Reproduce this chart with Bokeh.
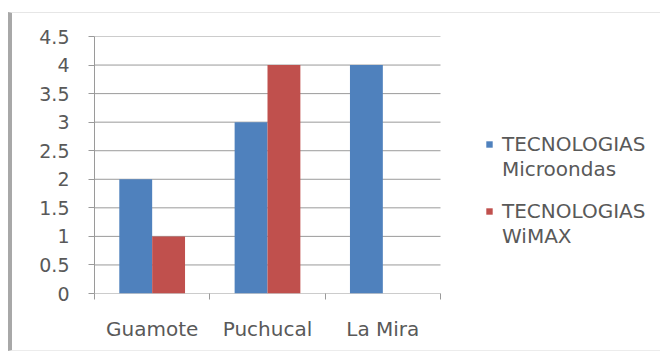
from bokeh.plotting import figure
from bokeh.models import (ColumnDataSource, FixedTicker, Legend, LegendItem,
                          Range1d)
from bokeh.embed import file_html
from bokeh.resources import INLINE

# Data
ciudades = ["Guamote", "Puchucal", "La Mira"]
microondas = [2, 3, 4]
wimax = [1, 4, 0]
y_ticks = [0, 0.5, 1, 1.5, 2, 2.5, 3, 3.5, 4, 4.5]
y_labels = ["0", "0.5", "1", "1.5", "2", "2.5", "3", "3.5", "4", "4.5"]
serie_a = ["TECNOLOGIAS", "Microondas"]
serie_b = ["TECNOLOGIAS", "WiMAX"]

AZUL = "#4F81BD"
ROJO = "#C0504D"
GRIS_TEXTO = "#595959"
GRIS_LINEA = "#9a9a9a"
FUENTE = "DejaVu Sans"

n = len(ciudades)
centros = [i + 0.5 for i in range(n)]
ancho = 0.285

# the plotting area also holds the legend on its right side:
# the categories take 346 of the frame's 570 pixels
FRAME_W = 570
CAT_W = 346
x_fin = n * FRAME_W / CAT_W

src_a = ColumnDataSource(dict(x=[c - ancho / 2 for c in centros], top=microondas))
src_b = ColumnDataSource(dict(x=[c + ancho / 2 for c in centros], top=wimax))
src_grid = ColumnDataSource(dict(x0=[0] * len(y_ticks), x1=[n] * len(y_ticks),
                                 y=y_ticks))

p = figure(width=652, height=339, output_backend="svg", toolbar_location=None,
           x_range=Range1d(0, x_fin), y_range=Range1d(0, 4.5),
           min_border_left=82, min_border_right=0,
           min_border_top=23, min_border_bottom=59)
p.styles = {"margin-left": "8px", "margin-top": "12px",
            "border-left": "4px solid #a8a8a8",
            "border-top": "1px solid #e6e6e6",
            "border-bottom": "1px solid #ececec"}
p.outline_line_color = None
p.background_fill_color = "white"
p.border_fill_color = "white"

# horizontal grid lines, only across the category area
p.segment(x0="x0", x1="x1", y0="y", y1="y", source=src_grid,
          line_color=GRIS_LINEA, line_width=1)

r_a = p.vbar(x="x", top="top", bottom=0, width=ancho, source=src_a,
             fill_color=AZUL, line_color=None)
r_b = p.vbar(x="x", top="top", bottom=0, width=ancho, source=src_b,
             fill_color=ROJO, line_color=None)

# Y axis
p.yaxis.ticker = FixedTicker(ticks=y_ticks)
p.yaxis.major_label_overrides = {t: lab for t, lab in zip(y_ticks, y_labels)}
p.yaxis.minor_tick_line_color = None
p.yaxis.major_tick_in = 0
p.yaxis.major_tick_out = 6
p.yaxis.major_label_standoff = 19
p.yaxis.axis_line_color = GRIS_LINEA
p.yaxis.major_tick_line_color = GRIS_LINEA
p.yaxis.major_label_text_font = FUENTE
p.yaxis.major_label_text_font_size = "19px"
p.yaxis.major_label_text_color = GRIS_TEXTO

# X axis: category names at centres, small ticks at the boundaries
p.xaxis.ticker = FixedTicker(ticks=centros, minor_ticks=list(range(n + 1)))
p.xaxis.major_label_overrides = {c: nm for c, nm in zip(centros, ciudades)}
p.xaxis.axis_line_color = None
p.xaxis.major_tick_line_color = None
p.xaxis.major_tick_in = 0
p.xaxis.major_tick_out = 0
p.xaxis.minor_tick_in = 0
p.xaxis.minor_tick_out = 6
p.xaxis.minor_tick_line_color = GRIS_LINEA
p.xaxis.major_label_standoff = 17
p.xaxis.major_label_text_font = FUENTE
p.xaxis.major_label_text_font_size = "20px"
p.xaxis.major_label_text_color = GRIS_TEXTO

p.xgrid.grid_line_color = None
p.ygrid.grid_line_color = None


def leyenda(nombres, renderer, y):
    # first line carries the colour swatch, second line is plain text
    items = [LegendItem(label=nombres[0], renderers=[renderer]),
             LegendItem(label=nombres[1], renderers=[])]
    return Legend(items=items, location=(391, y), padding=0, margin=0,
                  spacing=0, label_height=25, glyph_width=8, glyph_height=8,
                  label_standoff=9, border_line_color=None,
                  background_fill_alpha=0, label_text_font=FUENTE,
                  label_text_font_size="20px", label_text_color=GRIS_TEXTO)


p.add_layout(leyenda(serie_a, r_a, 112), "center")
p.add_layout(leyenda(serie_b, r_b, 45), "center")

open("out.html", "w").write(file_html(p, INLINE))
